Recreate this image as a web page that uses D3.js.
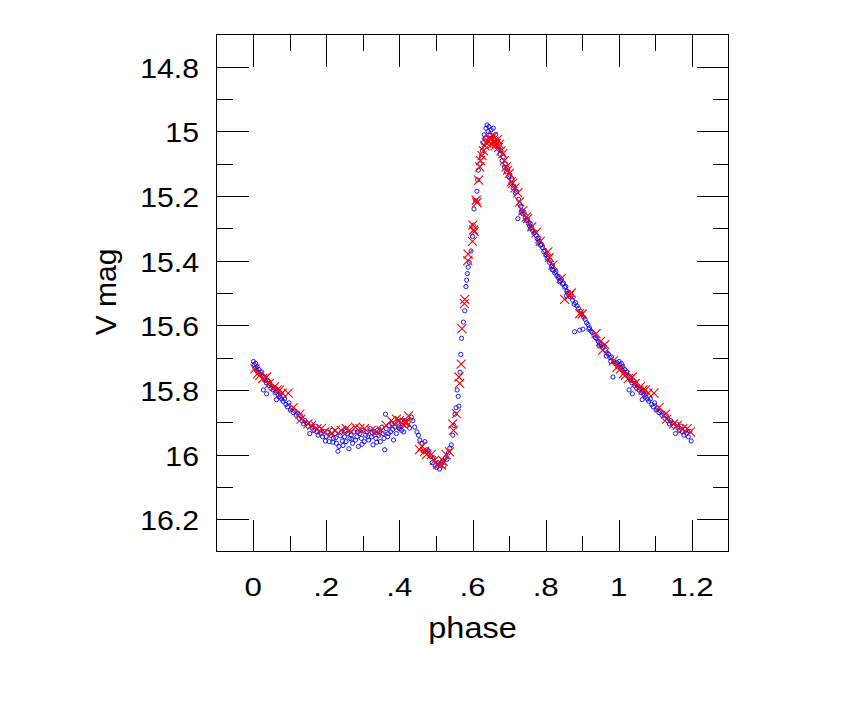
<!DOCTYPE html>
<html><head><meta charset="utf-8">
<script src="https://cdn.jsdelivr.net/npm/d3@7"></script>
<style>html,body{margin:0;padding:0;background:#fff;} svg{display:block;}</style>
</head><body>
<svg id="chart" width="864" height="725"></svg>
<script>
// ---- axis definitions ----
const xDomain = [-0.1, 1.3];
const yDomain = [14.7, 16.3];
const xMajorTicks = [0, 0.2, 0.4, 0.6, 0.8, 1.0, 1.2];
const xTickLabels = ["0", ".2", ".4", ".6", ".8", "1", "1.2"];
const xMinorTicks = [0.1, 0.3, 0.5, 0.7, 0.9, 1.1];
const yMajorTicks = [14.8, 15.0, 15.2, 15.4, 15.6, 15.8, 16.0, 16.2];
const yTickLabels = ["14.8", "15", "15.2", "15.4", "15.6", "15.8", "16", "16.2"];
const yMinorTicks = [14.9, 15.1, 15.3, 15.5, 15.7, 15.9, 16.1];
const xTitle = "phase";
const yTitle = "V mag";
// phases below this value are shown a second time at phase + 1
const repeatBelow = 0.2;

// ---- observations: [phase, V mag] ----
const blueObs = [
[0.001,15.712],[0.003,15.722],[0.005,15.732],[0.007,15.718],[0.009,15.738],[0.011,15.728],[0.013,15.745],[0.016,15.737],
[0.019,15.752],[0.022,15.744],[0.025,15.758],[0.028,15.800],[0.030,15.762],[0.033,15.770],[0.036,15.778],[0.037,15.812],
[0.040,15.772],[0.043,15.786],[0.046,15.780],[0.049,15.795],[0.052,15.788],[0.055,15.800],[0.058,15.794],[0.061,15.808],
[0.064,15.830],[0.066,15.802],[0.069,15.816],[0.072,15.822],[0.075,15.812],[0.078,15.828],[0.082,15.835],[0.086,15.828],
[0.090,15.845],[0.094,15.852],[0.098,15.840],[0.102,15.862],[0.106,15.856],[0.110,15.870],[0.114,15.865],[0.118,15.878],
[0.122,15.872],[0.126,15.888],[0.130,15.880],[0.134,15.896],[0.138,15.905],[0.142,15.895],[0.146,15.902],[0.150,15.912],
[0.155,15.935],[0.158,15.905],[0.162,15.918],[0.166,15.925],[0.170,15.912],[0.174,15.930],[0.178,15.940],[0.182,15.922],
[0.186,15.935],[0.190,15.945],[0.194,15.928],[0.198,15.958],
[0.200,15.945],[0.204,15.930],[0.208,15.960],[0.212,15.940],[0.216,15.925],[0.220,15.950],[0.224,15.935],[0.228,15.965],
[0.232,15.990],[0.235,15.975],[0.238,15.942],[0.242,15.930],[0.246,15.972],[0.250,15.945],[0.254,15.960],[0.258,15.935],
[0.262,15.982],[0.265,15.950],[0.268,15.940],[0.272,15.965],[0.276,15.930],[0.280,15.955],[0.284,15.945],[0.288,15.975],
[0.292,15.935],[0.296,15.950],[0.300,15.925],[0.304,15.960],[0.308,15.940],[0.312,15.930],[0.316,15.955],[0.320,15.920],
[0.324,15.945],[0.328,15.970],[0.332,15.930],[0.336,15.950],[0.340,15.925],[0.344,15.940],[0.348,15.960],[0.352,15.915],
[0.356,15.935],[0.360,15.985],[0.362,15.875],[0.364,15.920],[0.368,15.945],[0.372,15.910],[0.376,15.930],[0.380,15.905],
[0.384,15.955],[0.388,15.915],[0.392,15.935],[0.396,15.900],[0.400,15.920],[0.404,15.895],[0.408,15.910],[0.412,15.930],
[0.416,15.895],[0.420,15.910],[0.424,15.900],[0.428,15.918],[0.433,15.884],[0.437,15.895],[0.442,15.915],
[0.218,15.962],[0.226,15.948],[0.244,15.958],[0.252,15.925],[0.270,15.952],[0.286,15.930],[0.298,15.968],[0.314,15.945],
[0.326,15.932],[0.338,15.962],[0.346,15.928],[0.358,15.950],[0.370,15.935],[0.382,15.922],[0.398,15.915],[0.406,15.925],
[0.448,15.930],[0.452,15.940],[0.456,15.955],[0.462,15.965],[0.466,15.990],[0.470,15.960],[0.476,15.985],[0.481,15.990],
[0.486,16.005],[0.490,16.025],[0.494,16.010],[0.498,16.035],[0.502,16.040],[0.506,16.025],[0.510,16.045],[0.514,16.030],
[0.518,16.020],[0.522,16.035],[0.526,16.010],[0.530,16.015],[0.534,15.995],[0.538,15.980],[0.542,15.970],[0.546,15.940],
[0.549,15.910],[0.552,15.875],[0.555,15.855],
[0.558,15.800],[0.561,15.820],[0.563,15.850],[0.566,15.745],[0.568,15.690],[0.570,15.640],[0.575,15.590],[0.579,15.555],
[0.582,15.480],[0.584,15.460],[0.586,15.440],[0.588,15.420],[0.591,15.405],[0.596,15.370],[0.600,15.325],[0.602,15.290],
[0.604,15.240],[0.609,15.215],[0.612,15.185],[0.614,15.150],[0.616,15.120],[0.620,15.100],[0.624,15.080],[0.627,15.060],
[0.629,15.035],[0.632,15.010],[0.635,15.020],[0.637,14.990],[0.640,14.980],[0.643,15.000],[0.645,14.985],[0.648,15.010],
[0.651,14.995],[0.654,15.020],[0.657,14.990],[0.660,15.025],[0.663,15.010],[0.666,15.040],[0.669,15.030],
[0.672,15.055],[0.675,15.070],[0.678,15.060],[0.681,15.090],[0.684,15.080],[0.687,15.110],[0.690,15.100],[0.693,15.125],
[0.696,15.115],[0.699,15.140],[0.702,15.135],[0.705,15.160],[0.708,15.150],[0.711,15.175],[0.714,15.170],[0.717,15.190],
[0.720,15.185],[0.724,15.270],[0.726,15.210],[0.729,15.225],[0.732,15.232],[0.735,15.245],[0.738,15.255],[0.741,15.250],
[0.744,15.268],[0.747,15.275],[0.750,15.272],[0.753,15.285],[0.756,15.292],[0.759,15.300],[0.762,15.298],[0.765,15.308],
[0.768,15.315],[0.771,15.312],[0.774,15.322],[0.777,15.332],[0.780,15.330],[0.783,15.340],[0.786,15.352],[0.789,15.350],
[0.792,15.360],[0.795,15.372],[0.798,15.368],[0.801,15.382],[0.804,15.392],[0.807,15.388],[0.810,15.405],[0.813,15.400],
[0.816,15.418],[0.819,15.415],[0.822,15.430],[0.825,15.438],[0.828,15.434],[0.831,15.446],[0.834,15.452],[0.837,15.450],
[0.840,15.462],[0.843,15.458],[0.846,15.472],[0.849,15.470],[0.852,15.482],[0.855,15.480],[0.858,15.495],[0.861,15.502],
[0.864,15.498],[0.867,15.512],[0.870,15.508],[0.874,15.522],[0.879,15.620],[0.882,15.530],[0.886,15.540],[0.890,15.548],
[0.893,15.615],[0.895,15.556],[0.898,15.565],[0.902,15.612],[0.904,15.575],[0.908,15.582],[0.912,15.592],[0.916,15.598],
[0.920,15.608],[0.924,15.618],[0.928,15.622],[0.932,15.630],[0.936,15.638],[0.940,15.642],[0.944,15.650],[0.948,15.655],
[0.952,15.660],[0.956,15.668],[0.960,15.665],[0.964,15.678],[0.968,15.685],[0.972,15.690],[0.976,15.700],[0.980,15.698],
[0.984,15.760],[0.986,15.712],[0.990,15.718],[0.994,15.715],[0.997,15.728],
[0.733,15.250],[0.758,15.285],[0.779,15.345],[0.818,15.428],[0.838,15.465],[0.857,15.508],[0.878,15.535],[0.918,15.612],
[0.946,15.664],[0.966,15.695],[0.978,15.712]
];

const redObs = [
[0.005,15.735],[0.012,15.750],[0.018,15.755],[0.026,15.765],[0.037,15.760],[0.045,15.780],[0.059,15.790],[0.066,15.800],
[0.073,15.800],[0.080,15.810],[0.096,15.810],[0.110,15.855],[0.128,15.875],[0.131,15.890],[0.150,15.905],[0.160,15.910],
[0.175,15.920],[0.187,15.920],[0.196,15.930],[0.214,15.935],[0.225,15.925],[0.241,15.925],[0.255,15.920],[0.264,15.925],
[0.280,15.915],[0.292,15.920],[0.305,15.920],[0.323,15.925],[0.337,15.930],[0.350,15.925],[0.364,15.910],[0.378,15.895],
[0.386,15.905],[0.392,15.890],[0.400,15.895],[0.410,15.905],[0.415,15.900],[0.420,15.900],[0.425,15.880],
[0.455,15.985],[0.462,15.975],[0.469,15.990],[0.474,16.000],[0.487,16.000],[0.496,16.018],[0.505,16.030],[0.515,16.033],
[0.520,16.020],[0.528,16.000],[0.537,15.992],[0.546,15.905],[0.548,15.925],
[0.556,15.873],[0.563,15.760],[0.565,15.780],[0.569,15.720],[0.571,15.610],[0.578,15.533],[0.579,15.520],[0.587,15.400],
[0.588,15.380],[0.600,15.340],[0.601,15.290],[0.603,15.305],[0.605,15.310],[0.610,15.213],[0.612,15.220],[0.617,15.151],
[0.620,15.110],[0.622,15.090],[0.626,15.075],[0.630,15.060],[0.634,15.045],[0.638,15.035],[0.642,15.030],[0.646,15.020],
[0.650,15.025],[0.653,15.040],[0.656,15.015],[0.659,15.030],[0.662,15.045],[0.665,15.037],[0.668,15.025],[0.671,15.050],
[0.674,15.040],[0.678,15.060],[0.683,15.069],[0.687,15.090],[0.692,15.110],[0.696,15.120],[0.701,15.130],[0.706,15.156],
[0.710,15.161],[0.716,15.175],[0.724,15.190],[0.729,15.218],[0.738,15.245],[0.747,15.265],[0.751,15.270],[0.762,15.295],
[0.774,15.313],[0.785,15.340],[0.806,15.373],[0.810,15.390],[0.820,15.414],[0.843,15.455],[0.852,15.520],[0.865,15.507],
[0.870,15.500],[0.893,15.564],[0.900,15.565],[0.938,15.626],[0.950,15.650],[0.956,15.677],[0.962,15.660],[0.985,15.710],
[0.995,15.730]
];

// ---- drawing ----
const svg = d3.select("#chart");
const x = d3.scaleLinear().domain(xDomain).range([216.5, 728.5]);
const y = d3.scaleLinear().domain(yDomain).range([34.5, 551.5]);
const majorLen = 32, minorLen = 16;
const font = "'Liberation Sans', Arial, Helvetica, sans-serif";

function fold(obs) {
  const out = obs.map(d => ({p: d[0], m: d[1]}));
  obs.filter(d => d[0] < repeatBelow).forEach(d => out.push({p: d[0] + 1, m: d[1]}));
  return out;
}

// points
svg.append("g").selectAll("circle").data(fold(blueObs)).join("circle")
  .attr("cx", d => x(d.p)).attr("cy", d => y(d.m)).attr("r", 2.1)
  .attr("fill", "none").attr("stroke", "#0000ff").attr("stroke-width", 0.9);

const cs = 4.5;
svg.append("g").selectAll("path").data(fold(redObs)).join("path")
  .attr("d", d => {
    const px = x(d.p), py = y(d.m);
    return `M${px-cs},${py-cs}L${px+cs},${py+cs}M${px-cs},${py+cs}L${px+cs},${py-cs}`;
  })
  .attr("fill", "none").attr("stroke", "#ff0000").attr("stroke-width", 1.1);

// axes (ticks inward on all four sides)
const gAx = svg.append("g").attr("shape-rendering", "crispEdges");
function addAxis(axisFn, scale, vals, len, transform) {
  const g = gAx.append("g").attr("transform", transform)
    .call(axisFn(scale).tickValues(vals).tickSize(-len).tickFormat(""));
  g.select(".domain").remove();
  g.selectAll(".tick line").attr("stroke", "#000");
}
addAxis(d3.axisBottom, x, xMajorTicks, majorLen, "translate(0,551.5)");
addAxis(d3.axisBottom, x, xMinorTicks, minorLen, "translate(0,551.5)");
addAxis(d3.axisTop, x, xMajorTicks, majorLen, "translate(0,34.5)");
addAxis(d3.axisTop, x, xMinorTicks, minorLen, "translate(0,34.5)");
addAxis(d3.axisLeft, y, yMajorTicks, majorLen, "translate(216.5,0)");
addAxis(d3.axisLeft, y, yMinorTicks, minorLen, "translate(216.5,0)");
addAxis(d3.axisRight, y, yMajorTicks, majorLen, "translate(728.5,0)");
addAxis(d3.axisRight, y, yMinorTicks, minorLen, "translate(728.5,0)");
gAx.append("rect").attr("x", 216.5).attr("y", 34.5).attr("width", 512).attr("height", 517)
  .attr("fill", "none").attr("stroke", "#000");

// tick labels
svg.append("g").selectAll("text").data(xMajorTicks).join("text")
  .attr("transform", d => `translate(${x(d)},596) scale(1.2,1)`)
  .attr("text-anchor", "middle").attr("font-family", font).attr("font-size", 26)
  .attr("fill", "#000").text((d, i) => xTickLabels[i]);

svg.append("g").selectAll("text").data(yMajorTicks).join("text")
  .attr("transform", d => `translate(199,${y(d) + 11}) scale(1.12,1)`)
  .attr("text-anchor", "end").attr("font-family", font).attr("font-size", 27)
  .attr("fill", "#000").text((d, i) => yTickLabels[i]);

// titles
svg.append("text").attr("transform", `translate(472.5,638) scale(1.12,1)`)
  .attr("text-anchor", "middle").attr("font-family", font).attr("font-size", 29)
  .attr("fill", "#000").text(xTitle);
svg.append("text").attr("transform", `translate(116,292) rotate(-90)`)
  .attr("text-anchor", "middle").attr("font-family", font).attr("font-size", 30)
  .attr("fill", "#000").text(yTitle);
</script>
</body></html>
